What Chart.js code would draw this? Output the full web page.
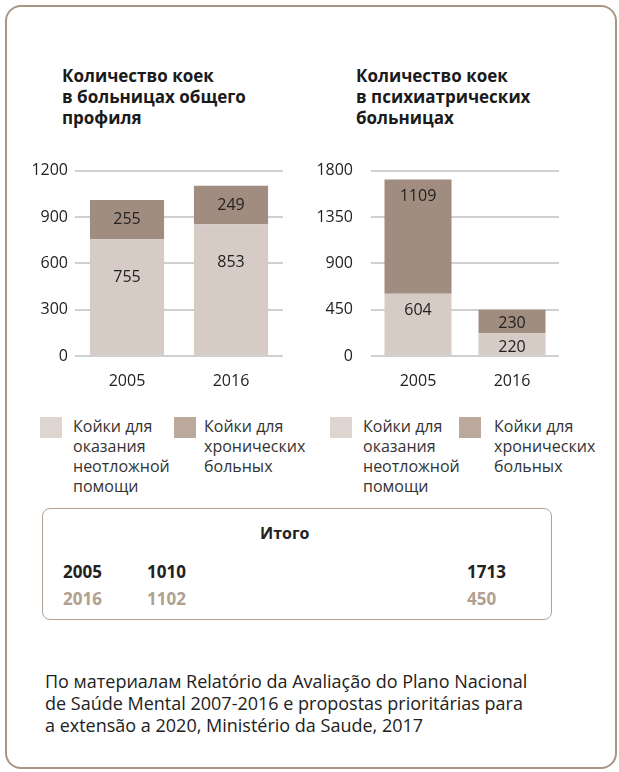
<!DOCTYPE html>
<html>
<head>
<meta charset="utf-8">
<script src="https://cdn.jsdelivr.net/npm/chart.js@4.4.1/dist/chart.umd.min.js"></script>
<style>
  body { margin: 0; background: #fff; font-family: "Open Sans", sans-serif; color: #222; }
  #page { position: relative; width: 619px; height: 772px; overflow: hidden; }
  .frame { position: absolute; left: 5px; top: 5px; width: 608px; height: 760px;
           border: 2.5px solid #a99585; border-radius: 16px; }
  .title { position: absolute; top: 65px; font-weight: 700; font-size: 17px; line-height: 21px; color: #1a1a1a; }
  canvas { position: absolute; }
  .leg { position: absolute; top: 416px; font-size: 16px; line-height: 20px; color: #333; }
  .sw { position: absolute; top: 417px; width: 22px; height: 21px; }
  .box { position: absolute; left: 42px; top: 508px; width: 508px; height: 110px;
         border: 1.5px solid #b3a397; border-radius: 8px; }
  .t { position: absolute; font-weight: 700; font-size: 17px; line-height: 22px; }
  .src { position: absolute; left: 45px; top: 670px; font-size: 18px; line-height: 22px; color: #222; }
</style>
</head>
<body>
<div id="page">
  <div class="frame"></div>

  <div class="title" style="left:62px">Количество коек<br>в больницах общего<br>профиля</div>
  <div class="title" style="left:356px">Количество коек<br>в психиатрических<br>больницах</div>

  <canvas id="general" width="280" height="242" style="left:20px;top:154px"></canvas>
  <canvas id="psych" width="276" height="253" style="left:300px;top:143px"></canvas>

  <div class="sw" style="left:40px;background:#ded5d0"></div>
  <div class="leg" style="left:73px">Койки для<br>оказания<br>неотложной<br>помощи</div>
  <div class="sw" style="left:174px;background:#bba99d"></div>
  <div class="leg" style="left:204px">Койки для<br>хронических<br>больных</div>
  <div class="sw" style="left:330px;background:#ded5d0"></div>
  <div class="leg" style="left:363px">Койки для<br>оказания<br>неотложной<br>помощи</div>
  <div class="sw" style="left:459px;background:#bba99d"></div>
  <div class="leg" style="left:494px">Койки для<br>хронических<br>больных</div>

  <div class="box"></div>
  <div class="t" style="left:260px;top:522px;font-size:16px">Итого</div>
  <div class="t" style="left:63px;top:561px">2005</div>
  <div class="t" style="left:147px;top:561px">1010</div>
  <div class="t" style="left:467px;top:561px">1713</div>
  <div class="t" style="left:63px;top:588px;color:#b0a090">2016</div>
  <div class="t" style="left:147px;top:588px;color:#b0a090">1102</div>
  <div class="t" style="left:467px;top:588px;color:#b0a090">450</div>

  <div class="src">По материалам Relatório da Avaliação do Plano Nacional<br>de Saúde Mental 2007-2016 e propostas prioritárias para<br>a extensão a 2020, Ministério da Saude, 2017</div>
</div>

<script>
const years = ['2005', '2016'];
const generalAcute = [755, 853];
const generalChronic = [255, 249];
const psychAcute = [604, 220];
const psychChronic = [1109, 230];
const generalTicks = { max: 1200, step: 300 };
const psychTicks = { max: 1800, step: 450 };

const lightColor = '#d6cbc5';
const darkColor = '#a18d80';

// numbers inside the bar segments
const barLabels = {
  id: 'barLabels',
  afterDatasetsDraw(chart, args, opts) {
    const ctx = chart.ctx;
    ctx.save();
    ctx.font = '16px "Open Sans"';
    ctx.fillStyle = '#222';
    ctx.textAlign = 'center';
    ctx.textBaseline = 'middle';
    chart.data.datasets.forEach((ds, i) => {
      chart.getDatasetMeta(i).data.forEach((bar, j) => {
        const h = bar.base - bar.y;
        const dy = Math.min(opts.offset, Math.max(h / 2, 14));
        ctx.fillText(ds.data[j], bar.x, bar.y + dy);
      });
    });
    ctx.restore();
  }
};

function makeChart(id, acute, chronic, ticks, axisWidth, tickPad, labelOffset) {
  return new Chart(document.getElementById(id), {
    type: 'bar',
    data: {
      labels: years,
      datasets: [
        { data: acute, backgroundColor: lightColor },
        { data: chronic, backgroundColor: darkColor }
      ]
    },
    options: {
      responsive: false,
      animation: false,
      devicePixelRatio: 1,
      layout: { padding: { top: 0, right: 17, left: 0, bottom: 0 } },
      datasets: { bar: { barPercentage: 0.713, categoryPercentage: 1 } },
      plugins: {
        legend: { display: false },
        tooltip: { enabled: false },
        barLabels: { offset: labelOffset }
      },
      scales: {
        x: {
          stacked: true,
          grid: { display: false, drawTicks: false },
          border: { display: false },
          ticks: { color: '#222', font: { family: 'Open Sans', size: 16 }, padding: 16 },
          afterFit: (s) => { s.height = 40; }
        },
        y: {
          stacked: true,
          min: 0,
          max: ticks.max,
          grid: { color: '#d0d0d0', lineWidth: 2, drawTicks: false },
          border: { display: false },
          ticks: {
            stepSize: ticks.step,
            color: '#222',
            font: { family: 'Open Sans', size: 16 },
            padding: tickPad,
            callback: (v) => String(v)
          },
          afterFit: (s) => { s.width = axisWidth; }
        }
      }
    },
    plugins: [barLabels]
  });
}

makeChart('general', generalAcute, generalChronic, generalTicks, 55, 7, 38);
makeChart('psych', psychAcute, psychChronic, psychTicks, 71, 18, 17);
</script>
</body>
</html>
